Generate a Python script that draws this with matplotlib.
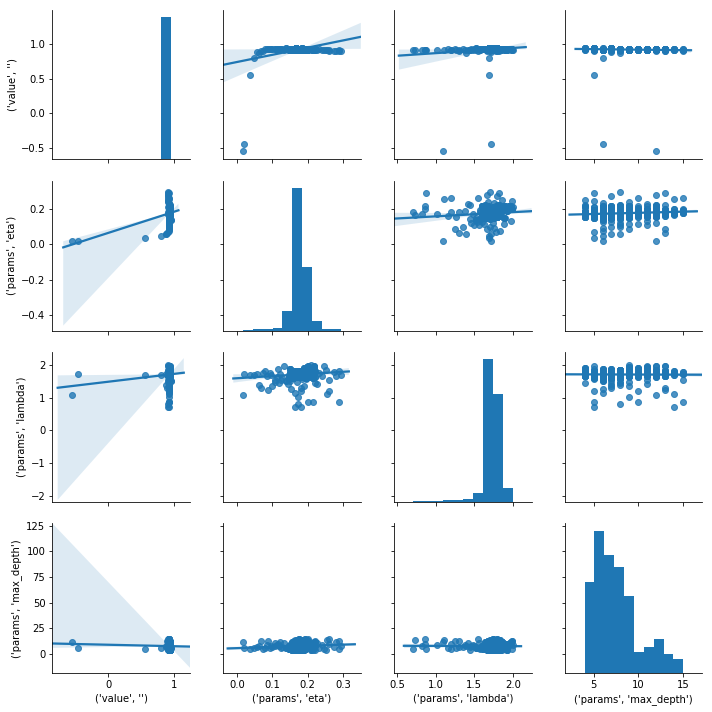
import numpy as np
import matplotlib.pyplot as plt
import seaborn as sns

# hyperparameter trials inside the dense cluster: distinct settings and how many trials hit them
core_eta = [
    0.157, 0.164, 0.169, 0.175, 0.184, 0.189, 0.210, 0.214,
    0.148, 0.153, 0.161, 0.166, 0.172, 0.177, 0.187, 0.192, 0.212, 0.151,
    0.146, 0.151, 0.158, 0.159, 0.164, 0.168, 0.174, 0.179, 0.186, 0.189, 0.194, 0.212, 0.217, 0.138,
    0.148, 0.154, 0.159, 0.162, 0.167, 0.173, 0.177, 0.185, 0.189, 0.193, 0.198, 0.215, 0.151,
    0.146, 0.153, 0.156, 0.162, 0.167, 0.172, 0.177, 0.183, 0.189, 0.193, 0.198, 0.215, 0.220,
    0.151, 0.156, 0.161, 0.168, 0.172, 0.178, 0.188, 0.192, 0.198, 0.216, 0.219,
    0.157, 0.168, 0.176, 0.185, 0.195, 0.203,
    0.155, 0.166, 0.174, 0.181, 0.192, 0.199, 0.219,
    0.155, 0.160, 0.172, 0.180, 0.191, 0.197, 0.218, 0.222,
    0.160, 0.171, 0.180, 0.193, 0.201, 0.222,
    0.169, 0.183, 0.198,
    0.176, 0.193,
]
core_lam = [
    1.70, 1.78, 1.68, 1.84, 1.74, 1.92, 1.66, 1.80,
    1.62, 1.72, 1.66, 1.80, 1.71, 1.77, 1.64, 1.84, 1.74, 1.90,
    1.58, 1.68, 1.76, 1.64, 1.72, 1.82, 1.67, 1.76, 1.70, 1.85, 1.62, 1.79, 1.90, 1.52,
    1.66, 1.74, 1.60, 1.79, 1.69, 1.75, 1.63, 1.83, 1.71, 1.78, 1.66, 1.86, 1.88,
    1.70, 1.62, 1.80, 1.68, 1.76, 1.64, 1.81, 1.72, 1.66, 1.86, 1.74, 1.60, 1.82,
    1.76, 1.66, 1.84, 1.70, 1.78, 1.66, 1.80, 1.73, 1.88, 1.68, 1.95,
    1.72, 1.80, 1.68, 1.76, 1.92, 1.64,
    1.80, 1.70, 1.82, 1.74, 1.66, 1.96, 1.78,
    1.68, 1.82, 1.74, 1.66, 1.86, 1.72, 1.98, 1.64,
    1.76, 1.68, 1.84, 1.72, 1.99, 1.80,
    1.78, 1.70, 1.84,
    1.74, 1.80,
]
core_depth = [
    4, 4, 4, 4, 4, 4, 4, 4,
    5, 5, 5, 5, 5, 5, 5, 5, 5, 5,
    6, 6, 6, 6, 6, 6, 6, 6, 6, 6, 6, 6, 6, 6,
    7, 7, 7, 7, 7, 7, 7, 7, 7, 7, 7, 7, 7,
    8, 8, 8, 8, 8, 8, 8, 8, 8, 8, 8, 8, 8,
    9, 9, 9, 9, 9, 9, 9, 9, 9, 9, 9,
    10, 10, 10, 10, 10, 10,
    11, 11, 11, 11, 11, 11, 11,
    12, 12, 12, 12, 12, 12, 12, 12,
    13, 13, 13, 13, 13, 13,
    14, 14, 14,
    15, 15,
]
core_value = [
    0.924, 0.936, 0.929, 0.933, 0.938, 0.927, 0.934, 0.925,
    0.922, 0.934, 0.928, 0.937, 0.926, 0.932, 0.935, 0.924, 0.931, 0.927,
    0.935, 0.921, 0.933, 0.929, 0.924, 0.934, 0.927, 0.931, 0.936, 0.922, 0.930, 0.926, 0.919, 0.945,
    0.935, 0.922, 0.931, 0.926, 0.937, 0.924, 0.933, 0.928, 0.936, 0.921, 0.930, 0.925, 0.934,
    0.930, 0.936, 0.921, 0.933, 0.922, 0.933, 0.923, 0.931, 0.927, 0.935, 0.920, 0.929, 0.932,
    0.931, 0.920, 0.934, 0.925, 0.929, 0.930, 0.922, 0.925, 0.933, 0.919, 0.926,
    0.921, 0.930, 0.924, 0.933, 0.919, 0.928,
    0.930, 0.921, 0.927, 0.933, 0.918, 0.926, 0.924,
    0.932, 0.920, 0.927, 0.923, 0.930, 0.918, 0.928, 0.924,
    0.920, 0.929, 0.917, 0.926, 0.931, 0.922,
    0.928, 0.918, 0.924,
    0.920, 0.926,
]
core_count = [
    5, 7, 6, 5, 5, 3, 2, 1,
    3, 5, 9, 10, 11, 8, 6, 5, 2, 1,
    3, 6, 8, 16, 22, 20, 20, 16, 13, 10, 10, 4, 3, 2,
    3, 5, 6, 14, 18, 18, 15, 13, 12, 10, 6, 4, 3,
    2, 4, 6, 12, 16, 15, 15, 13, 10, 9, 7, 4, 2,
    3, 4, 7, 11, 12, 11, 10, 9, 8, 3, 3,
    2, 5, 5, 4, 3, 2,
    2, 6, 6, 5, 4, 3, 1,
    2, 4, 8, 8, 6, 4, 2, 2,
    2, 5, 5, 4, 2, 1,
    3, 2, 2,
    3, 2,
]

# single trials away from the cluster
tail_eta = [0.017, 0.020, 0.035, 0.048, 0.289, 0.215, 0.200, 0.180, 0.165, 0.172,
            0.172, 0.256, 0.261, 0.163, 0.180, 0.154, 0.087, 0.067, 0.100, 0.061,
            0.180, 0.190, 0.228, 0.222, 0.144, 0.107, 0.261, 0.280, 0.296, 0.289,
            0.113, 0.094, 0.078, 0.117, 0.133, 0.246, 0.211, 0.233, 0.107, 0.056,
            0.072, 0.085, 0.097, 0.122, 0.126, 0.241, 0.275, 0.252, 0.118, 0.124,
            0.150, 0.195, 0.170, 0.185]
tail_lam = [1.10, 1.72, 1.69, 1.69, 0.88, 0.86, 0.87, 0.71, 0.73, 0.82,
            1.02, 1.11, 1.20, 1.16, 1.20, 1.27, 1.25, 1.30, 1.36, 1.39,
            1.31, 1.38, 1.42, 1.45, 1.44, 1.50, 1.55, 1.66, 1.71, 1.82,
            1.63, 1.76, 1.84, 1.88, 1.97, 1.99, 2.00, 1.75, 1.56, 1.72,
            1.78, 1.66, 1.70, 1.74, 1.60, 1.68, 1.79, 1.86, 1.46, 1.54,
            1.52, 1.58, 1.49, 1.57]
tail_depth = [12, 6, 5, 6, 5, 10, 15, 5, 14, 8,
              9, 14, 10, 6, 5, 6, 13, 13, 7, 8,
              7, 9, 11, 4, 7, 8, 15, 12, 8, 13,
              9, 6, 6, 10, 11, 5, 9, 6, 11, 7,
              5, 9, 8, 12, 7, 9, 7, 4, 8, 6,
              7, 6, 9, 5]
tail_value = [-0.545, -0.455, 0.557, 0.800, 0.920, 0.915, 0.915, 0.914, 0.915, 0.914,
              0.915, 0.921, 0.921, 0.922, 0.920, 0.920, 0.926, 0.895, 0.926, 0.875,
              0.918, 0.920, 0.918, 0.921, 0.915, 0.925, 0.907, 0.905, 0.904, 0.906,
              0.927, 0.926, 0.924, 0.922, 0.916, 0.910, 0.914, 0.922, 0.925, 0.880,
              0.905, 0.926, 0.927, 0.926, 0.925, 0.912, 0.906, 0.909, 0.926, 0.927,
              0.915, 0.919, 0.913, 0.918]

labels = ["('value', '')", "('params', 'eta')", "('params', 'lambda')", "('params', 'max_depth')"]

# expand the cluster settings to one row per trial
columns = [
    np.concatenate([np.repeat(core_value, core_count), tail_value]),
    np.concatenate([np.repeat(core_eta, core_count), tail_eta]),
    np.concatenate([np.repeat(core_lam, core_count), tail_lam]),
    np.concatenate([np.repeat(core_depth, core_count), tail_depth]).astype(float),
]

xlims = [(-0.845, 1.241), (-0.040, 0.351), (0.461, 2.242), (1.78, 17.11)]
ylims = [(-0.673, 1.495), (-0.487, 0.357), (-2.19, 2.40), (-18.5, 127.3)]
xticks = [[0, 1], [0.0, 0.1, 0.2, 0.3], [0.5, 1.0, 1.5, 2.0], [5, 10, 15]]
yticks = [[-0.5, 0.0, 0.5, 1.0], [-0.4, -0.2, 0.0, 0.2], [-2, -1, 0, 1, 2], [0, 25, 50, 75, 100, 125]]
# x extent of each fitted line (the grid grew while panels were drawn)
line_spans = [
    [None, (-0.040, 0.351), (0.526, 2.167), (3.0, 15.85)],
    [(-0.68, 1.065), None, (0.461, 2.242), (2.33, 16.5)],
    [(-0.764, 1.146), (-0.011, 0.317), None, (1.78, 17.11)],
    [(-0.845, 1.241), (-0.027, 0.334), (0.591, 2.106), None],
]

fig, axes = plt.subplots(4, 4, sharex='col', sharey='row', figsize=(712 / 72, 712 / 72), dpi=72)
fig.subplots_adjust(left=0.0735, right=0.9864, bottom=0.0548, top=0.986, wspace=0.24, hspace=0.145)

for i in range(4):
    for j in range(4):
        ax = axes[i, j]
        if i == j:
            ax.set_xlim(xlims[j])
            tw = ax.twinx()
            tw.hist(columns[i], bins=10, color='C0')
            tw.set_axis_off()
        else:
            ax.set_xlim(line_spans[i][j])
            sns.regplot(x=columns[j], y=columns[i], ax=ax, truncate=False,
                        color='C0', seed=0)
        ax.spines['top'].set_visible(False)
        ax.spines['right'].set_visible(False)

for i in range(4):
    axes[i, 0].set_ylim(ylims[i])
    axes[i, 0].set_yticks(yticks[i])
    axes[i, 0].set_ylabel(labels[i])
for j in range(4):
    axes[3, j].set_xlim(xlims[j])
    axes[3, j].set_xticks(xticks[j])
    axes[3, j].set_xlabel(labels[j])

fig.savefig('out.png', dpi=72)
